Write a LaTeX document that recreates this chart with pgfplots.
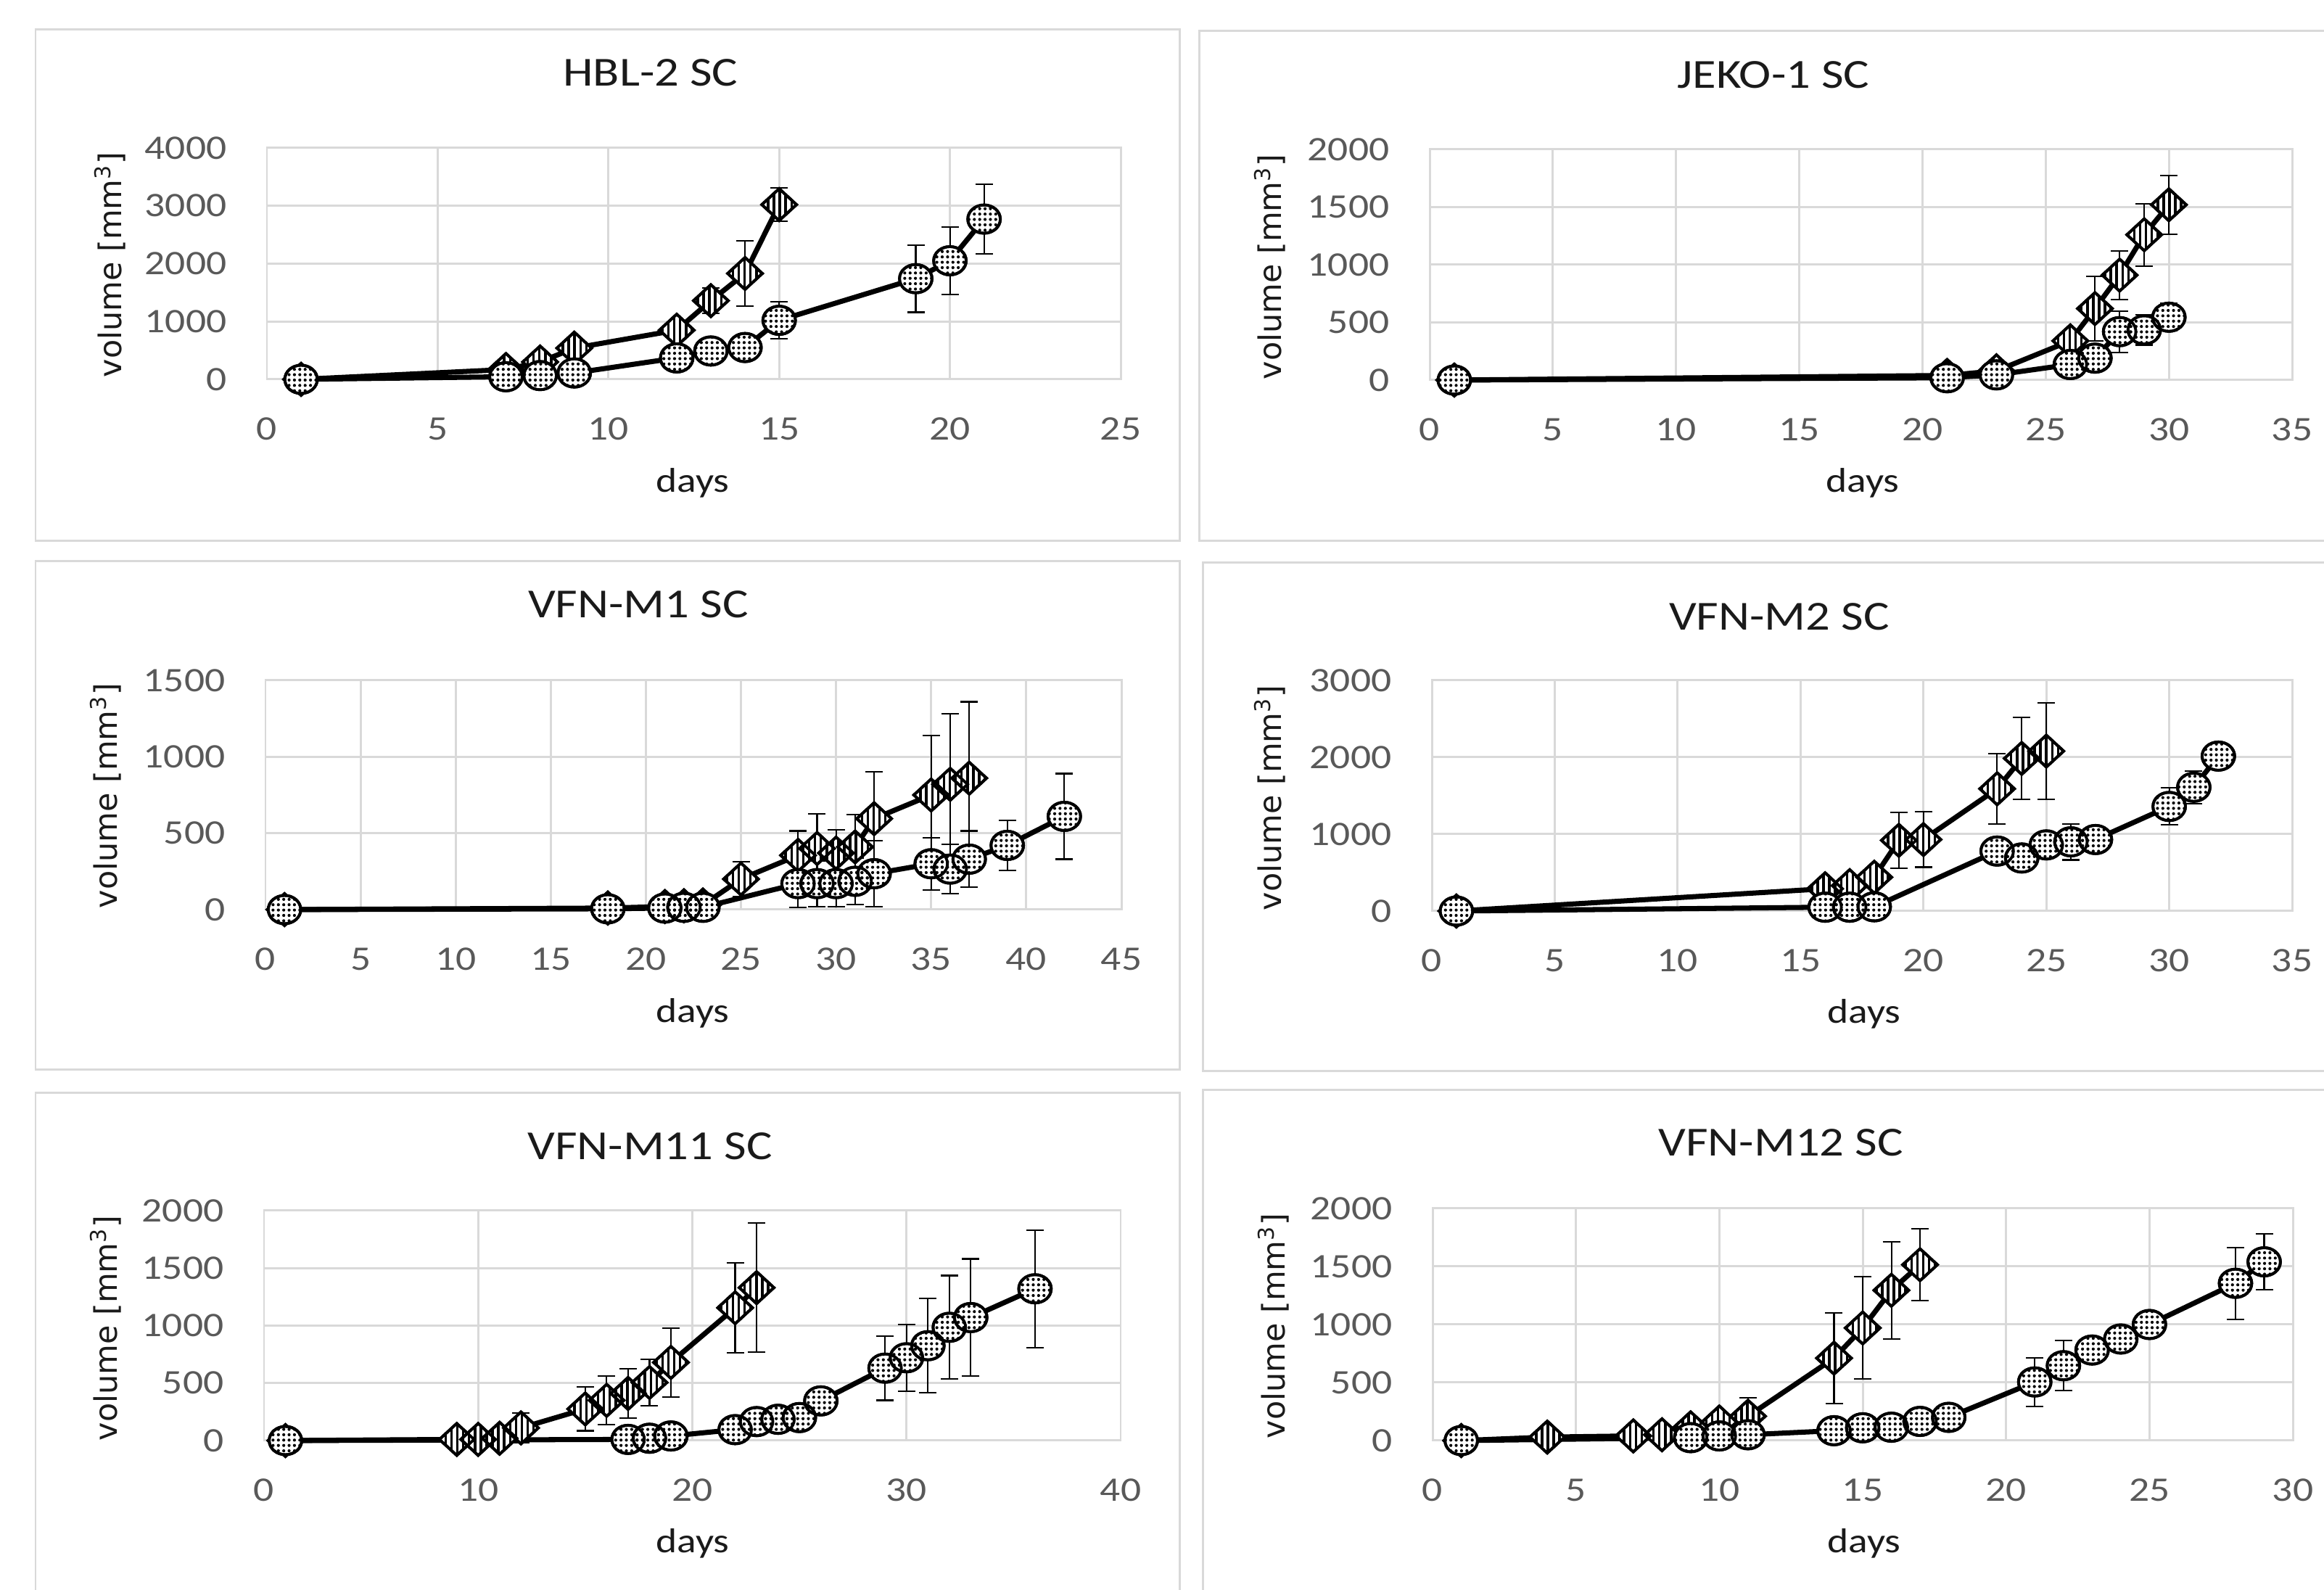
\documentclass[border=0pt]{standalone}
\usepackage{fontspec}
\setmainfont{Carlito}[FakeStretch=1.17]
\newfontfamily\labfont{DejaVu Sans}
\usepackage{pgfplots}
\pgfplotsset{compat=1.18}
\usepackage{pgfplotstable}
\usetikzlibrary{patterns.meta}

\definecolor{gridc}{HTML}{D9D9D9}
\definecolor{tickc}{HTML}{595959}
\definecolor{titlec}{HTML}{1A1A1A}

% day, mean volume, error
\pgfplotstableread{
x y e
1 0 0
7 170 0
8 300 0
9 540 0
12 850 0
13 1360 220
14 1830 560
15 3020 290
}\hblA
\pgfplotstableread{
x y e
1 0 0
7 45 0
8 65 0
9 110 0
12 370 0
13 490 0
14 550 210
15 1020 320
19 1740 580
20 2050 580
21 2770 600
}\hblB
\pgfplotstableread{
x y e
1 0 0
21 40 0
23 80 0
26 340 0
27 620 280
28 910 210
29 1260 270
30 1520 255
}\jekoA
\pgfplotstableread{
x y e
1 0 0
21 20 0
23 45 0
26 135 0
27 190 0
28 420 180
29 435 130
30 545 120
}\jekoB
\pgfplotstableread{
x y e
1 0 0
18 10 0
21 20 0
22 25 0
23 30 0
25 200 115
28 355 160
29 400 225
30 370 150
31 410 210
32 595 305
35 750 390
36 820 460
37 860 500
}\mOneA
\pgfplotstableread{
x y e
1 0 0
18 5 0
21 10 0
22 15 0
23 15 0
28 170 155
29 170 150
30 170 150
31 185 150
32 235 215
35 300 170
36 265 160
37 330 185
39 420 165
42 610 280
}\mOneB
\pgfplotstableread{
x y e
1 0 0
16 290 0
17 330 0
18 440 0
19 920 360
20 930 360
23 1590 460
24 1985 530
25 2080 630
}\mTwoA
\pgfplotstableread{
x y e
1 0 0
16 50 0
17 50 0
18 55 0
23 780 0
24 690 0
25 860 0
26 900 235
27 930 0
30 1360 240
31 1610 210
32 2015 0
}\mTwoB
\pgfplotstableread{
x y e
1 0 0
9 10 0
10 10 0
11 20 0
12 110 130
15 275 190
16 350 210
17 410 215
18 505 200
19 680 300
22 1155 390
23 1330 560
}\mElevenA
\pgfplotstableread{
x y e
1 0 0
17 10 0
18 20 0
19 40 0
22 95 0
23 165 0
24 185 0
25 200 0
26 345 100
29 630 280
30 720 290
31 825 410
32 985 450
33 1070 510
36 1320 510
}\mElevenB
\pgfplotstableread{
x y e
1 0 0
4 30 0
7 40 0
8 50 0
9 110 0
10 160 80
11 210 160
14 710 390
15 970 440
16 1295 420
17 1515 310
}\mTwelveA
\pgfplotstableread{
x y e
1 0 0
9 25 0
10 40 0
11 50 0
14 85 0
15 110 0
16 115 0
17 165 0
18 200 0
21 505 210
22 645 215
23 780 0
24 875 0
25 1000 0
28 1355 310
29 1540 240
}\mTwelveB

\pgfplotsset{
  panel/.style={
    scale only axis, clip=false, xmin=0, ymin=0,
    grid=major,
    major grid style={draw=gridc, line width=0.85pt},
    axis line style={draw=gridc, line width=0.85pt},
    major tick length=0pt,
    tick label style={font=\fontsize{13.5}{14}\selectfont, text=tickc, inner sep=0pt},
    yticklabel style={anchor=east, xshift=-0.55cm},
    xticklabel style={anchor=north, yshift=-0.52cm},
    /pgf/number format/assume math mode=true,
    /pgf/number format/1000 sep={},
  },
  errs/.style={draw=none, mark=none, forget plot,
    error bars/.cd, y dir=both, y explicit,
    error bar style={draw=black, line width=0.6pt, solid},
    error mark options={draw=black, rotate=90, mark size=0.12cm, line width=0.6pt}},
  lineA/.style={black, line width=2pt, mark=diamond*, mark size=0.22cm,
    mark options={solid, draw=black, fill=white, line width=1.1pt, xscale=1.45}},
  patA/.style={only marks, mark=diamond*, mark size=0.22cm,
    mark options={solid, draw=black, line width=1.1pt, xscale=1.45,
      pattern={Lines[angle=90,distance=2.3pt,line width=1pt]}, pattern color=black}},
  lineB/.style={black, line width=2pt, mark=*, mark size=0.195cm,
    mark options={solid, draw=black, fill=white, line width=1.1pt, xscale=1.15}},
  patB/.style={only marks, mark=*, mark size=0.195cm,
    mark options={solid, draw=black, line width=1.1pt, xscale=1.15,
      pattern={Dots[distance=2.1pt,radius=0.6pt]}, pattern color=black}},
}

% error bars under white marks, then the hatched/dotted marks on top
\newcommand{\drawseries}[2]{%
  \addplot[errs] table[x=x,y=y,y error=e]{#1};
  \addplot[line#2] table[x=x,y=y]{#1};
  \addplot[pat#2] table[x=x,y=y]{#1};
}

\tikzset{
  ttl/.style={font=\fontsize{16.2}{18}\selectfont, text=titlec},
  xl/.style={font=\fontsize{13.5}{15}\selectfont, text=titlec},
  yl/.style={rotate=90, font=\labfont\fontsize{12.2}{13}\selectfont, text=titlec},
}

\begin{document}
\begin{tikzpicture}
\useasboundingbox (0,0) rectangle (32.04,21.92);
\clip (0,0) rectangle (32.04,21.92);

% chart frames
\draw[gridc, line width=0.85pt] (0.49,21.51) rectangle (16.26,14.46);
\draw[gridc, line width=0.85pt] (16.53,21.49) rectangle (32.6,14.46);
\draw[gridc, line width=0.85pt] (0.49,14.18) rectangle (16.26,7.17);
\draw[gridc, line width=0.85pt] (16.58,14.16) rectangle (32.6,7.15);
\draw[gridc, line width=0.85pt] (0.49,6.85) rectangle (16.26,-0.6);
\draw[gridc, line width=0.85pt] (16.58,6.89) rectangle (32.6,-0.6);

% HBL-2
\begin{axis}[panel, at={(3.68cm,16.69cm)}, anchor=south west, width=11.77cm, height=3.19cm,
  xmax=25, xtick distance=5, ymax=4000, ytick distance=1000]
\drawseries{\hblA}{A}
\drawseries{\hblB}{B}
\end{axis}
\node[ttl] at (8.97,20.92) {HBL-2 SC};
\node[xl] at (9.55,15.26) {days};
\node[yl] at (1.52,18.27) {volume [mm\textsuperscript{3}]};

% JEKO-1
\begin{axis}[panel, at={(19.71cm,16.68cm)}, anchor=south west, width=11.89cm, height=3.18cm,
  xmax=35, xtick distance=5, ymax=2000, ytick distance=500]
\drawseries{\jekoA}{A}
\drawseries{\jekoB}{B}
\end{axis}
\node[ttl] at (24.45,20.89) {JEKO-1 SC};
\node[xl] at (25.68,15.26) {days};
\node[yl] at (17.51,18.24) {volume [mm\textsuperscript{3}]};

% VFN-M1
\begin{axis}[panel, at={(3.66cm,9.38cm)}, anchor=south west, width=11.8cm, height=3.16cm,
  xmax=45, xtick distance=5, ymax=1500, ytick distance=500]
\drawseries{\mOneA}{A}
\drawseries{\mOneB}{B}
\end{axis}
\node[ttl] at (8.80,13.59) {VFN-M1 SC};
\node[xl] at (9.55,7.95) {days};
\node[yl] at (1.46,10.95) {volume [mm\textsuperscript{3}]};

% VFN-M2
\begin{axis}[panel, at={(19.74cm,9.36cm)}, anchor=south west, width=11.86cm, height=3.18cm,
  xmax=35, xtick distance=5, ymax=3000, ytick distance=1000]
\drawseries{\mTwoA}{A}
\drawseries{\mTwoB}{B}
\end{axis}
\node[ttl] at (24.53,13.42) {VFN-M2 SC};
\node[xl] at (25.70,7.94) {days};
\node[yl] at (17.51,10.92) {volume [mm\textsuperscript{3}]};

% VFN-M11
\begin{axis}[panel, at={(3.64cm,2.06cm)}, anchor=south west, width=11.81cm, height=3.17cm,
  xmax=40, xtick distance=10, ymax=2000, ytick distance=500]
\drawseries{\mElevenA}{A}
\drawseries{\mElevenB}{B}
\end{axis}
\node[ttl] at (8.96,6.12) {VFN-M11 SC};
\node[xl] at (9.55,0.64) {days};
\node[yl] at (1.46,3.61) {volume [mm\textsuperscript{3}]};

% VFN-M12
\begin{axis}[panel, at={(19.75cm,2.06cm)}, anchor=south west, width=11.86cm, height=3.2cm,
  xmax=30, xtick distance=5, ymax=2000, ytick distance=500]
\drawseries{\mTwelveA}{A}
\drawseries{\mTwelveB}{B}
\end{axis}
\node[ttl] at (24.55,6.17) {VFN-M12 SC};
\node[xl] at (25.70,0.64) {days};
\node[yl] at (17.56,3.64) {volume [mm\textsuperscript{3}]};
\end{tikzpicture}
\end{document}
